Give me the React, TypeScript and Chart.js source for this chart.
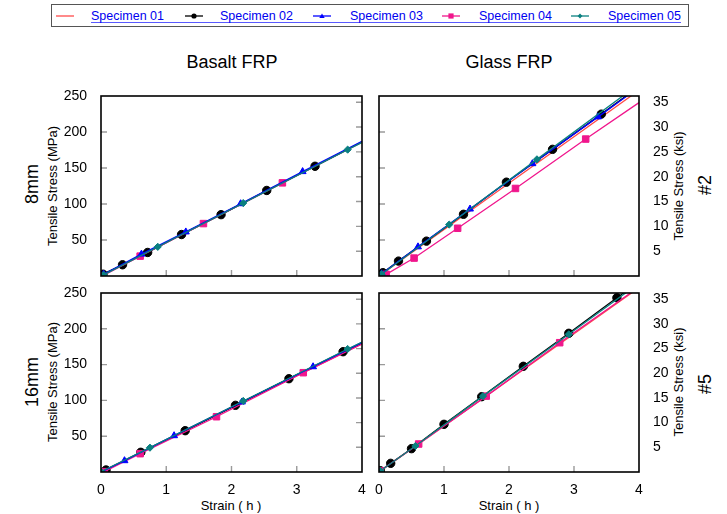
import React, { useEffect, useRef } from "react";
import { Chart, registerables } from "chart.js";

Chart.register(...registerables);

type Pt = [number, number];

const FONT = '"Liberation Sans", Arial, Helvetica, sans-serif';
const MPA_PER_KSI = 6.894757;

const SPECIMENS = ["Specimen 01", "Specimen 02", "Specimen 03", "Specimen 04", "Specimen 05"];
const STRAIN_TICKS = [0, 1, 2, 3, 4];
const MPA_TICKS = [50, 100, 150, 200, 250];
const KSI_TICKS = [5, 10, 15, 20, 25, 30, 35];

// Stress (MPa) vs strain; the last pair of each marked trace is where the curve leaves the frame.
// Basalt FRP, 8 mm
const basalt8S01: Pt[] = [[0, 0], [4, 186]];
const basalt8S02: Pt[] = [[0.03, 2.5], [0.33, 15.6], [0.715, 32.7], [1.235, 57.6], [1.84, 85.2], [2.54, 118.8], [3.28, 152.4], [4, 186.5]];
const basalt8S03: Pt[] = [[0.04, 2.5], [0.62, 30.4], [1.3, 61.2], [2.14, 100.4], [3.09, 145], [4, 187]];
const basalt8S04: Pt[] = [[0.02, 0], [0.6, 27.6], [1.57, 72.8], [2.78, 129.4], [4, 186]];
const basalt8S05: Pt[] = [[0.04, 1.5], [0.87, 40.5], [2.18, 101.3], [3.78, 175.5], [4, 185.5]];

// Glass FRP, #2
const glass2S01: Pt[] = [[0, 0], [3.9, 251.5]];
const glass2S02: Pt[] = [[0.06, 4.6], [0.3, 20.7], [0.73, 48.4], [1.3, 85.7], [1.96, 130.3], [2.67, 175.9], [3.42, 224.8], [3.86, 254]];
const glass2S03: Pt[] = [[0.04, 3], [0.6, 40.5], [1.4, 93], [2.36, 156], [3.37, 221], [3.86, 253]];
const glass2S04: Pt[] = [[0.11, 2.3], [0.54, 24.9], [1.21, 66.3], [2.1, 121.6], [3.18, 190.2], [4, 240.8]];
const glass2S05: Pt[] = [[0.04, 2.5], [1.08, 71.4], [2.43, 162], [3.84, 256]];

// Basalt FRP, 16 mm
const basalt16S01: Pt[] = [[0, 0], [4, 179]];
const basalt16S02: Pt[] = [[0.077, 2.8], [0.61, 27.5], [1.29, 57.7], [2.06, 93.1], [2.88, 130.3], [3.71, 168], [4, 180]];
const basalt16S03: Pt[] = [[0, 0], [0.36, 15.8], [1.12, 50.7], [2.16, 97.8], [3.25, 147], [4, 181]];
const basalt16S04: Pt[] = [[0.05, 0.5], [0.6, 25.6], [1.77, 77.2], [3.1, 138.7], [4, 178.8]];
const basalt16S05: Pt[] = [[0, 0.5], [0.75, 34], [2.18, 99.2], [3.78, 171.8], [4, 181.5]];

// Glass FRP, #5
const glass5S01: Pt[] = [[0, 0], [3.9, 251]];
const glass5S02: Pt[] = [[0.02, 1.8], [0.18, 12.1], [0.5, 32.6], [1, 66.6], [1.58, 105.2], [2.22, 147.6], [2.92, 193.7], [3.66, 243.4], [3.8, 252.5]];
const glass5S04: Pt[] = [[0.015, 1.4], [0.61, 39.1], [1.65, 106], [2.78, 180.6], [3.9, 252]];
const glass5S05: Pt[] = [[0.02, 1.5], [0.56, 36.3], [1.6, 106], [2.92, 192.3], [3.8, 250.5]];

type Style = { color: string; pointStyle: string; radius: number; markers: boolean; order: number };

// lower order is painted last (on top)
const SPECIMEN_STYLES: Style[] = [
  { color: "#ff4b4b", pointStyle: "circle", radius: 0, markers: false, order: 4 },
  { color: "#000000", pointStyle: "circle", radius: 4.2, markers: true, order: 3 },
  { color: "#0000ff", pointStyle: "triangle", radius: 4, markers: true, order: 1 },
  { color: "#f0168c", pointStyle: "rect", radius: 4.6, markers: true, order: 2 },
  { color: "#0a8080", pointStyle: "rectRot", radius: 3.6, markers: true, order: 0 },
];

type Trace = { specimen: number; points: Pt[] };

type PanelProps = {
  left: number;
  top: number;
  width: number;
  height: number;
  padTop: number;
  leftW: number;
  rightW: number;
  xH: number;
  traces: Trace[];
  mpaLabels: boolean;
  ksiLabels: boolean;
  strainLabels: boolean;
};

function Panel(p: PanelProps) {
  const ref = useRef<HTMLCanvasElement | null>(null);

  useEffect(() => {
    if (!ref.current) return;
    const tickFont = { family: FONT, size: 14 };

    const datasets = p.traces.map((t) => {
      const st = SPECIMEN_STYLES[t.specimen];
      const n = t.points.length;
      return {
        label: SPECIMENS[t.specimen],
        data: t.points.map(([x, y]) => ({ x, y })),
        borderColor: st.color,
        backgroundColor: st.color,
        borderWidth: 1.3,
        pointStyle: st.pointStyle,
        pointRadius: (ctx: any) => (st.markers && ctx.dataIndex < n - 1 ? st.radius : 0),
        pointBorderWidth: 1,
        pointBorderColor: st.color,
        pointBackgroundColor: st.color,
        tension: 0,
        order: st.order,
      };
    });

    const framePlugin = {
      id: "frame",
      afterDatasetsDraw(chart: any) {
        const { ctx, chartArea: a, scales } = chart;
        ctx.save();
        ctx.strokeStyle = "#9a9a9a";
        ctx.lineWidth = 1.4;
        ctx.beginPath();
        for (const v of STRAIN_TICKS.slice(1, -1)) {
          const px = scales.x.getPixelForValue(v);
          ctx.moveTo(px, a.bottom);
          ctx.lineTo(px, a.bottom - 6);
        }
        for (const v of MPA_TICKS.slice(0, -1)) {
          const py = scales.y.getPixelForValue(v);
          ctx.moveTo(a.left, py);
          ctx.lineTo(a.left + 6, py);
        }
        if (!p.ksiLabels) {
          for (const v of KSI_TICKS) {
            const py = scales.y2.getPixelForValue(v);
            ctx.moveTo(a.right, py);
            ctx.lineTo(a.right - 6, py);
          }
        }
        ctx.stroke();
        ctx.strokeStyle = "#000";
        ctx.lineWidth = 1.6;
        ctx.strokeRect(a.left, a.top, a.right - a.left, a.bottom - a.top);
        ctx.restore();
      },
    };

    const chart = new Chart(ref.current, {
      type: "line",
      data: { datasets: datasets as any },
      options: {
        responsive: false,
        animation: false,
        events: [],
        layout: { padding: { top: p.padTop, left: 0, right: 0, bottom: 0 } },
        plugins: { legend: { display: false }, tooltip: { enabled: false } },
        scales: {
          x: {
            type: "linear",
            position: "bottom",
            min: 0,
            max: 4,
            grid: { display: false },
            border: { display: false },
            ticks: { display: p.strainLabels, stepSize: 1, color: "#000", font: tickFont, padding: 2, maxRotation: 0 },
            afterBuildTicks: (s: any) => {
              s.ticks = STRAIN_TICKS.map((v) => ({ value: v }));
            },
            afterFit: (s: any) => {
              s.height = p.xH;
            },
          },
          y: {
            type: "linear",
            position: "left",
            min: 0,
            max: 250,
            grid: { display: false },
            border: { display: false },
            ticks: { display: p.mpaLabels, color: "#000", font: tickFont, padding: 6 },
            afterBuildTicks: (s: any) => {
              s.ticks = MPA_TICKS.map((v) => ({ value: v }));
            },
            afterFit: (s: any) => {
              s.width = p.leftW;
            },
          },
          y2: {
            type: "linear",
            position: "right",
            min: 0,
            max: 250 / MPA_PER_KSI,
            grid: { display: false },
            border: { display: false },
            ticks: { display: p.ksiLabels, color: "#000", font: tickFont, padding: 6 },
            afterBuildTicks: (s: any) => {
              s.ticks = KSI_TICKS.map((v) => ({ value: v }));
            },
            afterFit: (s: any) => {
              s.width = p.rightW;
            },
          },
        },
      } as any,
      plugins: [framePlugin],
    });
    return () => chart.destroy();
  }, []);

  return (
    <canvas
      ref={ref}
      width={p.width}
      height={p.height}
      style={{ position: "absolute", left: p.left, top: p.top, width: p.width, height: p.height }}
    />
  );
}

function Text(props: { x: number; y: number; size: number; rotate?: boolean; children: React.ReactNode }) {
  return (
    <div
      style={{
        position: "absolute",
        left: props.x,
        top: props.y,
        transform: `translate(-50%, -50%)${props.rotate ? " rotate(-90deg)" : ""}`,
        fontSize: props.size,
        lineHeight: 1,
        whiteSpace: "nowrap",
        color: "#000",
      }}
    >
      {props.children}
    </div>
  );
}

const LEGEND_TEXT_X = [91, 220, 350, 479, 608];
const LEGEND_LINE_X = [56, 185, 313, 442, 571];

function LegendMark({ i }: { i: number }) {
  const st = SPECIMEN_STYLES[i];
  const x0 = LEGEND_LINE_X[i];
  const cx = 9;
  let mark: React.ReactNode = null;
  if (i === 1) mark = <circle cx={cx} cy={5} r={2.6} fill={st.color} />;
  if (i === 2) mark = <polygon points={`${cx},2.5 ${cx + 2.7},7 ${cx - 2.7},7`} fill={st.color} />;
  if (i === 3) mark = <rect x={cx - 2.6} y={2.4} width={5.2} height={5.2} fill={st.color} />;
  if (i === 4) mark = <polygon points={`${cx},2.4 ${cx + 2.4},5 ${cx},7.6 ${cx - 2.4},5`} fill={st.color} />;
  return (
    <svg style={{ position: "absolute", left: x0, top: 11 }} width={18} height={10}>
      <line x1={0} y1={5} x2={18} y2={5} stroke={st.color} strokeWidth={1.3} />
      {mark}
    </svg>
  );
}

export default function App() {
  const leftCol = { left: 50, width: 320, leftW: 51, rightW: 8 };
  const rightCol = { left: 370, width: 302, leftW: 9, rightW: 33 };
  const topRow = { top: 70, height: 226, padTop: 26, xH: 20 };
  const bottomRow = { top: 270, height: 230, padTop: 23, xH: 28 };

  return (
    <div
      style={{
        position: "fixed",
        left: 0,
        top: 0,
        width: 727,
        height: 514,
        background: "#fff",
        fontFamily: FONT,
        overflow: "hidden",
      }}
    >
      {/* legend */}
      <div
        style={{
          position: "absolute",
          left: 51,
          top: 4,
          width: 636,
          height: 21,
          border: "1.5px solid #555",
        }}
      />
      <div style={{ position: "absolute", left: 91, top: 22, width: 590, height: 1, background: "#5a5aff" }} />
      {SPECIMENS.map((name, i) => (
        <React.Fragment key={name}>
          <LegendMark i={i} />
          <div
            style={{
              position: "absolute",
              left: LEGEND_TEXT_X[i],
              top: 9,
              fontSize: 12.5,
              lineHeight: "14px",
              color: "#0000f0",
              whiteSpace: "nowrap",
            }}
          >
            {name}
          </div>
        </React.Fragment>
      ))}

      {/* column and row headings */}
      <Text x={232} y={62} size={18}>Basalt FRP</Text>
      <Text x={509} y={62} size={18}>Glass FRP</Text>
      <Text x={32} y={184} size={18} rotate>8mm</Text>
      <Text x={32} y={382} size={18} rotate>16mm</Text>
      <Text x={705} y={185} size={18} rotate>#2</Text>
      <Text x={705} y={384} size={18} rotate>#5</Text>

      {/* axis titles */}
      <Text x={52} y={186} size={13} rotate>Tensile Stress (MPa)</Text>
      <Text x={52} y={382} size={13} rotate>Tensile Stress (MPa)</Text>
      <Text x={678} y={186} size={13} rotate>Tensile Stress (ksi)</Text>
      <Text x={678} y={382} size={13} rotate>Tensile Stress (ksi)</Text>
      <Text x={231} y={505} size={13}>Strain ( h )</Text>
      <Text x={509} y={505} size={13}>Strain ( h )</Text>

      <Panel
        {...leftCol}
        {...topRow}
        mpaLabels
        ksiLabels={false}
        strainLabels={false}
        traces={[
          { specimen: 0, points: basalt8S01 },
          { specimen: 1, points: basalt8S02 },
          { specimen: 2, points: basalt8S03 },
          { specimen: 3, points: basalt8S04 },
          { specimen: 4, points: basalt8S05 },
        ]}
      />
      <Panel
        {...rightCol}
        {...topRow}
        mpaLabels={false}
        ksiLabels
        strainLabels={false}
        traces={[
          { specimen: 0, points: glass2S01 },
          { specimen: 1, points: glass2S02 },
          { specimen: 2, points: glass2S03 },
          { specimen: 3, points: glass2S04 },
          { specimen: 4, points: glass2S05 },
        ]}
      />
      <Panel
        {...leftCol}
        {...bottomRow}
        mpaLabels
        ksiLabels={false}
        strainLabels
        traces={[
          { specimen: 0, points: basalt16S01 },
          { specimen: 1, points: basalt16S02 },
          { specimen: 2, points: basalt16S03 },
          { specimen: 3, points: basalt16S04 },
          { specimen: 4, points: basalt16S05 },
        ]}
      />
      <Panel
        {...rightCol}
        {...bottomRow}
        mpaLabels={false}
        ksiLabels
        strainLabels
        traces={[
          { specimen: 0, points: glass5S01 },
          { specimen: 1, points: glass5S02 },
          { specimen: 3, points: glass5S04 },
          { specimen: 4, points: glass5S05 },
        ]}
      />
    </div>
  );
}
